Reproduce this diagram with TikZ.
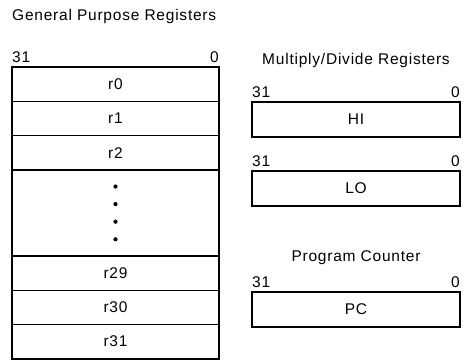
\documentclass[tikz,border=0pt]{standalone}
\usepackage{fontspec}
\setmainfont{Liberation Sans}[LetterSpace=5]
\usetikzlibrary{positioning}

\begin{document}
\begin{tikzpicture}[x=1pt, y=-1pt,
  every node/.style={font=\fontsize{15.5}{18}\selectfont},
  reg/.style={draw, line width=1.4pt, outer sep=0pt, inner sep=0pt, minimum width=207pt, minimum height=34.3pt},
  rreg/.style={reg, minimum width=208pt, minimum height=35pt},
  bitno/.style={inner sep=0pt, anchor=base west},
  heading/.style={inner sep=0pt, anchor=base}
]
  \useasboundingbox (0,0) rectangle (468,360);

  % general purpose registers
  \node[heading, anchor=base west] (gprtitle) at (12,20) {General Purpose Registers};
  \node[reg, anchor=north west] (r0) at (12,67) {r0};
  \node[reg, below=0pt of r0] (r1) {r1};
  \node[reg, below=0pt of r1] (r2) {r2};
  \node[reg, below=0pt of r2, minimum height=86pt] (gap) {};
  \node[reg, below=0pt of gap] (r29) {r29};
  \node[reg, below=0pt of r29] (r30) {r30};
  \node[reg, below=0pt of r30] (r31) {r31};
  \foreach \dy in {-26.4,-8.8,8.8,26.4}
    \fill (gap.center) ++(0,\dy) circle (2.1pt);

  % multiply/divide registers and program counter
  \node[heading] (mdtitle) at (356,64) {Multiply/Divide Registers};
  \node[rreg, anchor=north west] (hi) at (252,102) {HI};
  \node[rreg, below=34pt of hi] (lo) {LO};
  \node[heading] (pctitle) at (356,261) {Program Counter};
  \node[rreg, below=86pt of lo] (pc) {PC};

  % bit numbers
  \foreach \r in {r0,hi,lo,pc} {
    \node[bitno] (\r msb) at ([yshift=5pt]\r.north west) {31};
    \node[bitno, anchor=base east] (\r lsb) at ([yshift=5pt]\r.north east) {0};
  }
\end{tikzpicture}
\end{document}
